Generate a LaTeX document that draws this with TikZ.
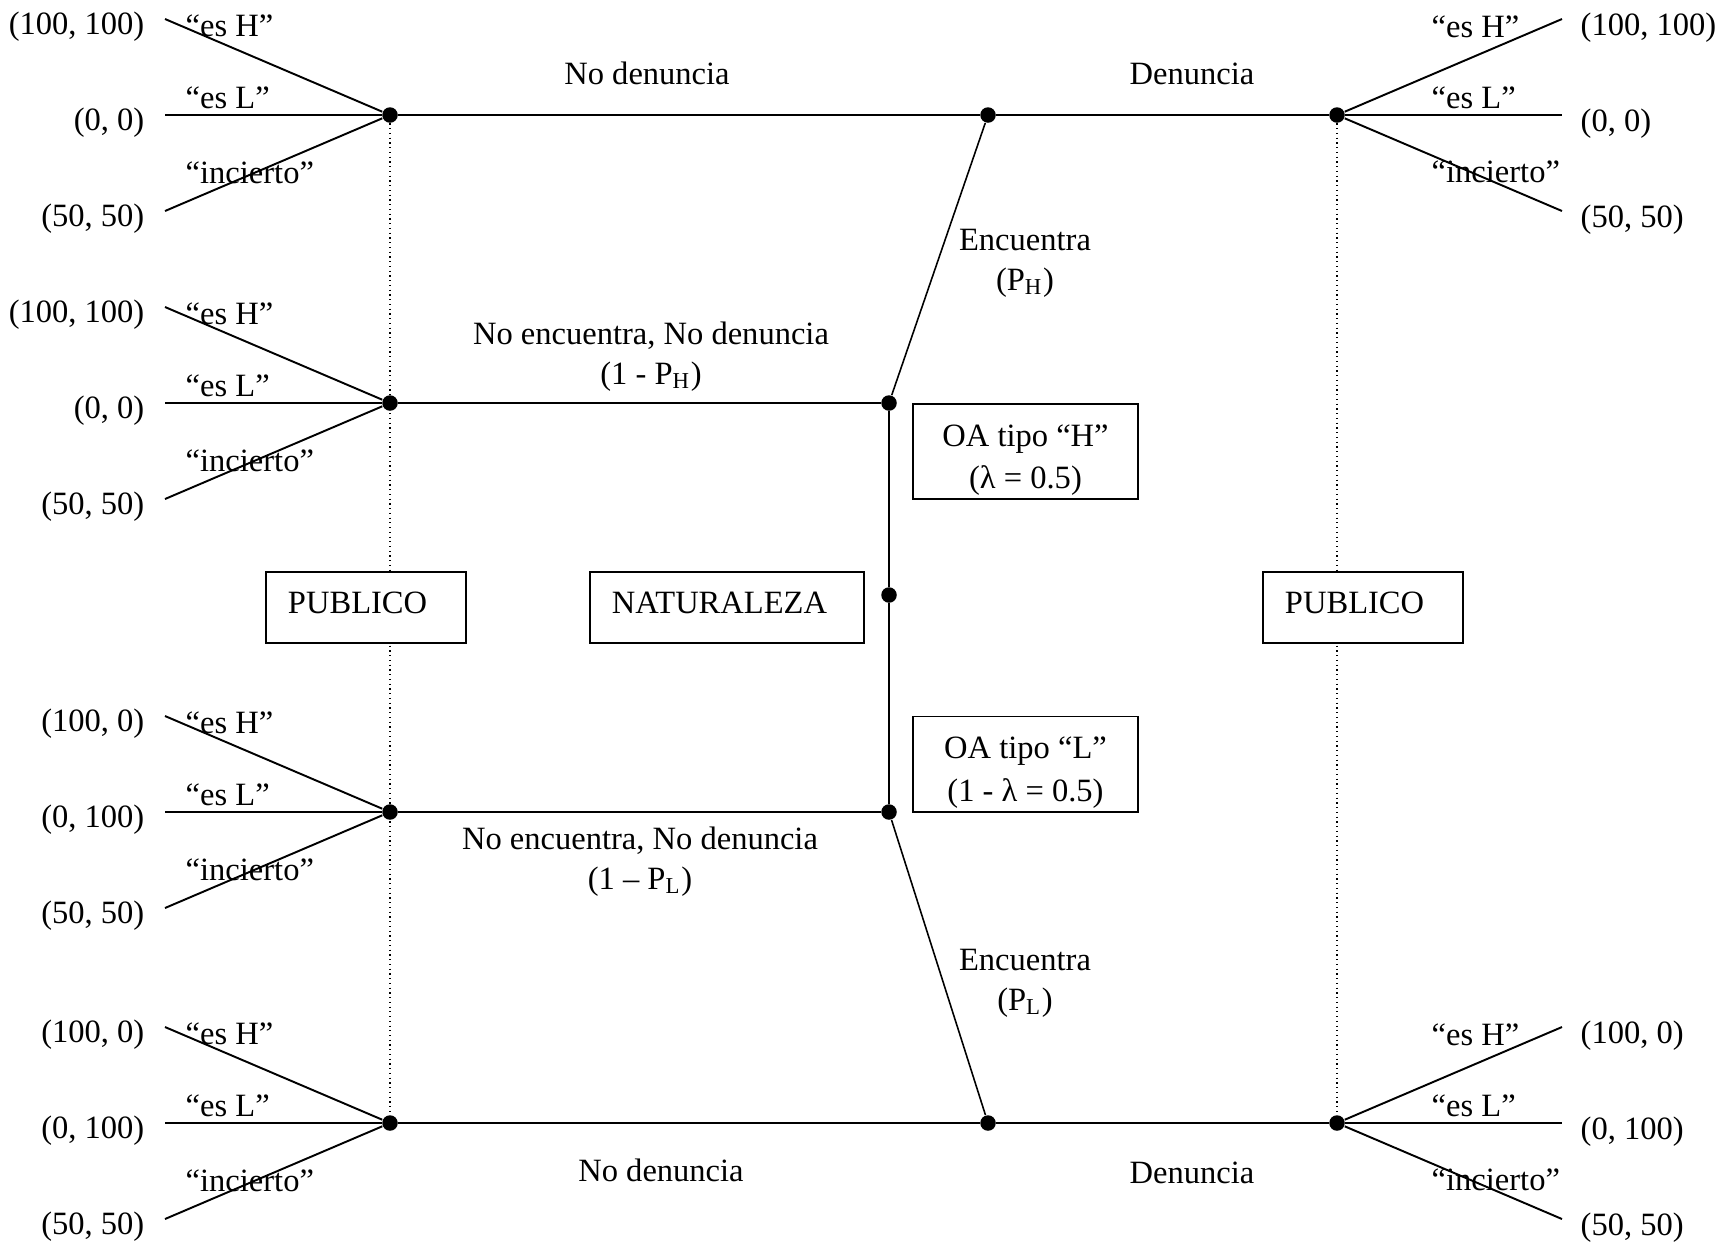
\documentclass[tikz,border=0pt]{standalone}
\usepackage{fontspec}
\setmainfont{Liberation Serif}
\begin{document}
\begin{tikzpicture}[x=0.01cm,y=-0.01cm,
  every node/.style={font=\fontsize{9.25}{11.3}\selectfont},
  dot/.style={circle,fill,inner sep=0pt,minimum size=0.155cm},
  branch/.style={line width=0.55pt},
  move/.style={line width=0.45pt},
  txt/.style={inner sep=0pt},
  box/.style={draw,line width=0.55pt,fill=white,minimum height=0.71cm,inner xsep=0.22cm,align=left},
  oabox/.style={draw,line width=0.55pt,fill=white,inner ysep=0pt,minimum width=2.25cm,minimum height=0.95cm,align=center,font=\fontsize{9.25}{12}\selectfont}]

\useasboundingbox (0,0) rectangle (1718,1244);

% naturaleza
\node[dot] (n1) at (889,403) {};
\node[dot] (n0) at (889,595) {};
\node[dot] (n2) at (889,812) {};
\node[dot] (d1) at (988,115) {};
\node[dot] (d2) at (988,1123) {};

% publico, izquierda
\foreach \n/\y/\ph/\pl in {1/115/{(100, 100)}/{(0, 0)}, 2/403/{(100, 100)}/{(0, 0)}, 3/812/{(100, 0)}/{(0, 100)}, 4/1123/{(100, 0)}/{(0, 100)}}{
  \node[dot] (pl\n) at (390,\y) {};
  \coordinate (pl\n-h) at (165,\y-96);
  \coordinate (pl\n-l) at (165,\y);
  \coordinate (pl\n-i) at (165,\y+96);
  \draw[branch] (pl\n)--(pl\n-h);
  \draw[branch] (pl\n)--(pl\n-l);
  \draw[branch] (pl\n)--(pl\n-i);
  \node[txt,anchor=west] (pl\n-th) at (185,\y-89) {“es H”};
  \node[txt,anchor=west] (pl\n-tl) at (185,\y-17) {“es L”};
  \node[txt,anchor=west] (pl\n-ti) at (185,\y+58) {“incierto”};
  \node[txt,anchor=east] (pl\n-ph) at (145,\y-88) {\ph};
  \node[txt,anchor=east] (pl\n-pl) at (145,\y+8) {\pl};
  \node[txt,anchor=east] (pl\n-pi) at (145,\y+104) {(50, 50)};
}

% publico, derecha
\foreach \n/\y/\ph/\pl in {1/115/{(100, 100)}/{(0, 0)}, 2/1123/{(100, 0)}/{(0, 100)}}{
  \node[dot] (pr\n) at (1337,\y) {};
  \coordinate (pr\n-h) at (1562,\y-96);
  \coordinate (pr\n-l) at (1562,\y);
  \coordinate (pr\n-i) at (1562,\y+96);
  \draw[branch] (pr\n)--(pr\n-h);
  \draw[branch] (pr\n)--(pr\n-l);
  \draw[branch] (pr\n)--(pr\n-i);
  \node[txt,anchor=west] (pr\n-th) at (1431,\y-88) {“es H”};
  \node[txt,anchor=west] (pr\n-tl) at (1431,\y-17) {“es L”};
  \node[txt,anchor=west] (pr\n-ti) at (1431,\y+57) {“incierto”};
  \node[txt,anchor=west] (pr\n-ph) at (1580,\y-87) {\ph};
  \node[txt,anchor=west] (pr\n-pl) at (1580,\y+9) {\pl};
  \node[txt,anchor=west] (pr\n-pi) at (1580,\y+105) {(50, 50)};
}

\draw[branch] (pl1)--(d1)--(pr1);
\draw[branch] (pl2)--(n1);
\draw[branch] (pl3)--(n2);
\draw[branch] (pl4)--(d2)--(pr2);
\draw[move] (n1)--(d1);
\draw[move] (n2)--(d2);
\draw[branch] (n1)--(n0)--(n2);

\draw[densely dotted,line width=0.35pt] (pl1)--(pl4);
\draw[densely dotted,line width=0.35pt] (pr1)--(pr2);

\node[box,text width=1.56cm,anchor=west] (pub1) at (265,607.5) {PUBLICO\rule[-0.1cm]{0pt}{0pt}};
\node[box,text width=2.30cm,anchor=west] (nat) at (589,607.5) {NATURALEZA\rule[-0.1cm]{0pt}{0pt}};
\node[box,text width=1.56cm,anchor=west] (pub2) at (1262,607.5) {PUBLICO\rule[-0.1cm]{0pt}{0pt}};

\node[oabox] (oah) at (1025.5,451.5) {\rule{0pt}{0.39cm}OA tipo “H”\\(λ = 0.5)};
\node[oabox] (oal) at (1025.5,764) {\rule{0pt}{0.39cm}OA tipo “L”\\(1 - λ = 0.5)};

\node[txt] (ndtop) at (647,73) {No denuncia};
\node[txt] (dtop) at (1192,74) {Denuncia};
\node[txt,align=center] (nenh) at (651,357) {No encuentra, No denuncia\\(1 - P\textsubscript{H})};
\node[txt,align=center] (ench) at (1025,263) {Encuentra\\(P\textsubscript{H})};
\node[txt,align=center] (nenl) at (640,862) {No encuentra, No denuncia\\(1 – P\textsubscript{L})};
\node[txt,align=center] (encl) at (1025,983) {Encuentra\\(P\textsubscript{L})};
\node[txt] (ndbot) at (661,1170) {No denuncia};
\node[txt] (dbot) at (1192,1173) {Denuncia};

\end{tikzpicture}
\end{document}
